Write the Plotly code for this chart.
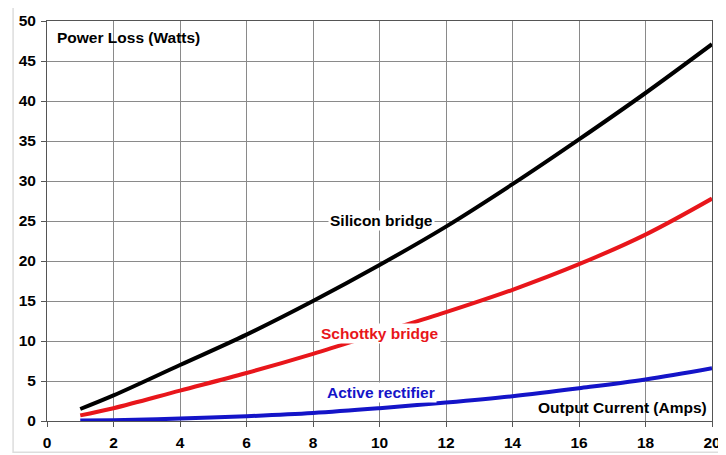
import plotly.graph_objects as go

current = [1, 2, 4, 6, 8, 10, 12, 14, 16, 18, 20]
silicon = [1.5, 3.2, 7.0, 10.8, 15.0, 19.5, 24.3, 29.6, 35.2, 41.0, 47.1]
schottky = [0.7, 1.6, 3.8, 6.0, 8.4, 11.0, 13.6, 16.4, 19.6, 23.3, 27.8]
active = [0.05, 0.1, 0.3, 0.6, 1.0, 1.6, 2.3, 3.1, 4.1, 5.2, 6.6]

x_ticks = [0, 2, 4, 6, 8, 10, 12, 14, 16, 18, 20]
y_ticks = [0, 5, 10, 15, 20, 25, 30, 35, 40, 45, 50]

font = "Liberation Sans, Arial, sans-serif"
FS = 15.5

fig = go.Figure()
for name, ys, col in [("Silicon bridge", silicon, "#000000"),
                      ("Schottky bridge", schottky, "#e8161b"),
                      ("Active rectifier", active, "#1414c8")]:
    fig.add_trace(go.Scatter(x=current, y=ys, mode="lines", name=name,
                             line=dict(color=col, width=4, shape="spline"),
                             showlegend=False, hoverinfo="skip"))

ann = [
    ("<b>Silicon bridge</b>", 10.05, 25.1, "#000000"),
    ("<b>Schottky bridge</b>", 10.0, 11.0, "#e8161b"),
    ("<b>Active rectifier</b>", 10.05, 3.6, "#1414c8"),
]
for t, x, y, c in ann:
    fig.add_annotation(x=x, y=y, text=t, showarrow=False, xanchor="center",
                       font=dict(family=font, size=FS, color=c),
                       bgcolor="white", borderpad=1)

fig.add_annotation(x=19.92, y=1.75, text="<b>Output Current (Amps)</b>", showarrow=False,
                   xanchor="right", font=dict(family=font, size=FS, color="#000"))
fig.add_annotation(x=0.25, y=47.9, text="<b>Power Loss (Watts)</b>", showarrow=False,
                   xanchor="left", font=dict(family=font, size=FS, color="#000"))

fig.add_shape(type="rect", xref="paper", yref="paper", x0=-0.051, x1=1.03, y0=-0.078, y1=1.035,
              line=dict(color="#dddddd", width=1.5), layer="below")

axis_common = dict(showgrid=True, gridcolor="#8a8a8a", gridwidth=1, zeroline=False,
                   showline=True, linecolor="#555555", linewidth=1, ticks="outside",
                   ticklen=5, tickcolor="#555555", automargin=False,
                   tickfont=dict(family=font, size=FS, color="#000"), mirror=True)

fig.update_xaxes(range=[0, 20], tickvals=x_ticks, ticktext=[f"<b>{v}</b>" for v in x_ticks],
                 ticklabelstandoff=2, **axis_common)
fig.update_yaxes(range=[0, 50], tickvals=y_ticks, ticktext=[f"<b>{v}</b>" for v in y_ticks],
                 ticklabelstandoff=2, **axis_common)

# page body has an 8px default margin; size the figure so the plot lands where the reference has it
fig.update_layout(width=718, height=447, margin=dict(l=39, r=14, t=13, b=34),
                  plot_bgcolor="white", paper_bgcolor="white",
                  font=dict(family=font))

fig.write_html("out.html")
